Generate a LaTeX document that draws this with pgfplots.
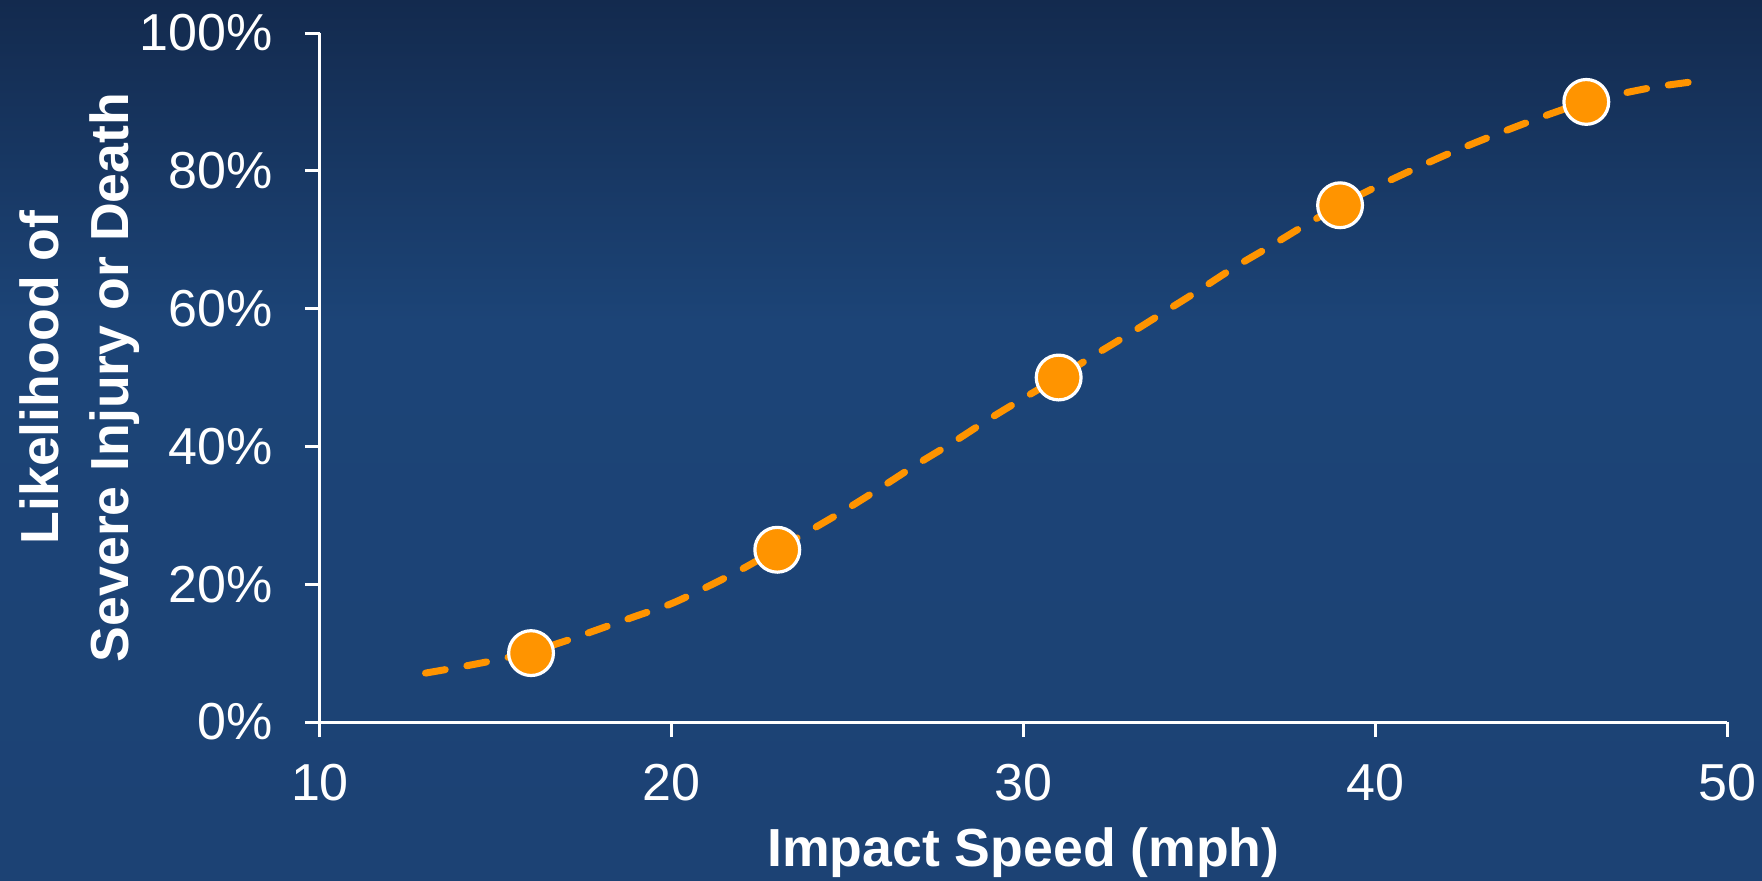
\documentclass[border=0pt]{standalone}
\usepackage{pgfplots}
\pgfplotsset{compat=1.18}
\usepackage{fontspec}
\setmainfont{Liberation Sans}

\definecolor{bgtop}{HTML}{132A4E}
\definecolor{bgmid}{HTML}{1C4477}
\definecolor{bgbot}{HTML}{1C4274}
\definecolor{curveorange}{HTML}{FF9400}

\begin{document}
\begin{tikzpicture}
% slide background: dark band at the top fading into an even blue
\shade[top color=bgtop, bottom color=bgmid]
  (-80pt,100pt) rectangle (360.5pt,180.5pt);
\shade[top color=bgmid, bottom color=bgbot]
  (-80pt,-39.5pt) rectangle (360.5pt,100.01pt);
\begin{axis}[
    at={(0,0)}, anchor=south west,
    scale only axis,
    width=351.75pt, height=172.25pt,
    xmin=10, xmax=50, ymin=0, ymax=100,
    axis x line=bottom, axis y line=left,
    axis line style={white, line width=0.75pt, -},
    tick style={white, line width=0.75pt},
    major tick length=3.75pt,
    tick align=outside,
    xtick={10,20,...,50},
    ytick={0,20,...,100},
    yticklabels={0\%,20\%,40\%,60\%,80\%,100\%},
    /pgf/number format/assume math mode=true,
    tick label style={font=\fontsize{13}{15}\selectfont, text=white},
    xticklabel style={yshift=-3.3pt},
    yticklabel style={xshift=-4.5pt},
    xlabel={Impact Speed (mph)},
    ylabel={Likelihood of\\Severe Injury or Death},
    label style={font=\fontsize{13.4}{17.5}\selectfont\bfseries, text=white, align=center},
    xlabel style={at={(axis description cs:0.5,-0.2104)}, anchor=base},
    ylabel style={at={(axis description cs:-0.171,0.5)}, anchor=center, rotate=0},
    clip=false,
]
% dashed trend curve
\addplot[curveorange, line width=1.75pt, dash pattern=on 5pt off 5.5pt,
         line cap=round, smooth, no marks] coordinates {
    (13,7.1) (14,8.0) (15,9.0) (16,10.2) (17,11.8) (18,13.6) (19,15.4)
    (20,17.2) (21,19.6) (22,22.2) (23,25.1) (24,28.0) (25,31.0) (26,34.2)
    (27,37.5) (28,40.6) (29,43.9) (30,47.0) (31,50.0) (32,53.2) (33,56.3)
    (34,59.5) (35,62.7) (36,66.0) (37,69.0) (38,72.1) (39,75.0) (40,77.6)
    (41,80.0) (42,82.3) (43,84.4) (44,86.4) (45,88.3) (46,90.0) (47,91.2)
    (48,92.2) (49,92.9)
};
% observed points
\addplot[only marks, mark=*, mark size=5.6pt,
         mark options={fill=curveorange, draw=white, line width=0.8pt}] coordinates {
    (16,10) (23,25) (31,50) (39,75) (46,90)
};
\end{axis}
\pgfresetboundingbox
\useasboundingbox (-80pt,-39.5pt) rectangle (360.5pt,180.5pt);
\end{tikzpicture}
\end{document}
